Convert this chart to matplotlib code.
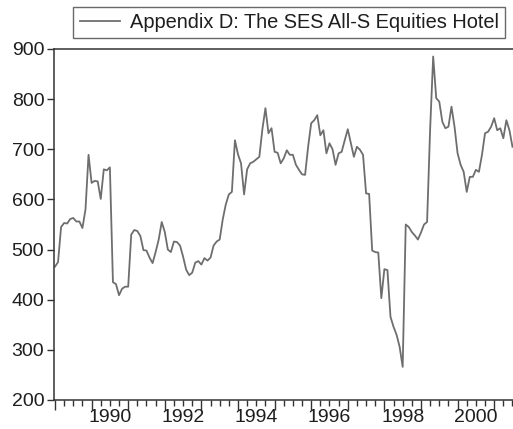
#!/usr/bin/env python3
"""Monthly SES All-S Equities Hotel index, 1989-2001 (EViews-style line chart)."""
import matplotlib
matplotlib.use("Agg")
import matplotlib.pyplot as plt
import numpy as np
from matplotlib.ticker import FixedLocator
from matplotlib.transforms import blended_transform_factory

plt.rcParams["font.family"] = ["Liberation Sans", "DejaVu Sans"]

START_YEAR = 1989  # first observation: 1989M01
SERIES_LABEL = "Appendix D: The SES All-S Equities Hotel"

# monthly index values
hotel_index = [
    466, 475, 545, 553, 552, 561, 563, 556, 556, 543, 580, 689,   # 1989
    633, 637, 636, 601, 660, 658, 664, 435, 431, 409, 422, 426,   # 1990
    426, 530, 539, 537, 527, 499, 498, 484, 473, 495, 520, 555,   # 1991
    535, 500, 495, 516, 515, 508, 486, 460, 449, 454, 474, 477,   # 1992
    470, 483, 478, 484, 508, 516, 520, 560, 590, 610, 615, 718,   # 1993
    690, 672, 610, 660, 672, 675, 680, 685, 740, 782, 732, 742,   # 1994
    695, 693, 672, 682, 698, 689, 689, 669, 659, 650, 649, 705,   # 1995
    752, 758, 768, 728, 738, 692, 712, 700, 669, 692, 695, 718,   # 1996
    740, 712, 685, 705, 699, 689, 612, 611, 498, 495, 494, 403,   # 1997
    461, 459, 366, 346, 330, 306, 266, 550, 545, 535, 528, 520,   # 1998
    534, 550, 555, 740, 885, 802, 795, 755, 742, 745, 785, 745,   # 1999
    692, 669, 655, 615, 645, 645, 659, 655, 689, 732, 735, 745,   # 2000
    762, 738, 742, 722, 758, 738, 705,                            # 2001
]

y_ticks = [200, 300, 400, 500, 600, 700, 800, 900]
year_labels = [1990, 1992, 1994, 1996, 1998, 2000]

LINE = "#6e6e6e"
AXIS = "#333333"
TEXT = "#1e1e1e"
FS = 14

t = START_YEAR + np.arange(len(hotel_index)) / 12.0

fig = plt.figure(figsize=(5.13, 4.29), dpi=100, facecolor="white")
ax = fig.add_axes([54 / 513, 29 / 429, 460 / 513, 351 / 429])

ax.plot(t, hotel_index, color=LINE, linewidth=1.3, label=SERIES_LABEL)

ax.set_xlim(START_YEAR - 0.027, START_YEAR + 150.5 / 12)
ax.set_ylim(200, 900)

ax.set_yticks(y_ticks)
ax.tick_params(axis="y", direction="out", length=5, width=1, color=AXIS,
               labelsize=FS, pad=2, labelcolor=TEXT)

# year ticks (major, taller) and quarter ticks (minor), labels centred mid-year
years = np.arange(START_YEAR, 2002)
ax.xaxis.set_major_locator(FixedLocator(years))
ax.xaxis.set_minor_locator(FixedLocator(np.arange(START_YEAR, 2001.6, 0.25)))
ax.set_xticklabels([])
ax.tick_params(axis="x", which="major", direction="out", length=7, width=1, color=AXIS)
ax.tick_params(axis="x", which="minor", direction="out", length=4, width=1, color=AXIS)
trans = blended_transform_factory(ax.transData, ax.transAxes)
for yr in year_labels:
    ax.text(yr + 0.5, -0.025, str(yr), transform=trans, ha="center", va="top",
            fontsize=FS, color=TEXT)

for side in ["left", "top", "bottom"]:
    ax.spines[side].set_color(AXIS)
    ax.spines[side].set_linewidth(1.1)
ax.spines["right"].set_visible(False)

leg = ax.legend(loc="center", bbox_to_anchor=(289 / 513, 1 - 22.5 / 429),
                bbox_transform=fig.transFigure, fontsize=14.4, frameon=True,
                fancybox=False, handlelength=2.0, handletextpad=0.5,
                borderpad=0.32, labelcolor=TEXT)
leg.get_frame().set_edgecolor("#444444")
leg.get_frame().set_linewidth(1.0)

fig.savefig("out.png", dpi=100, facecolor="white")
